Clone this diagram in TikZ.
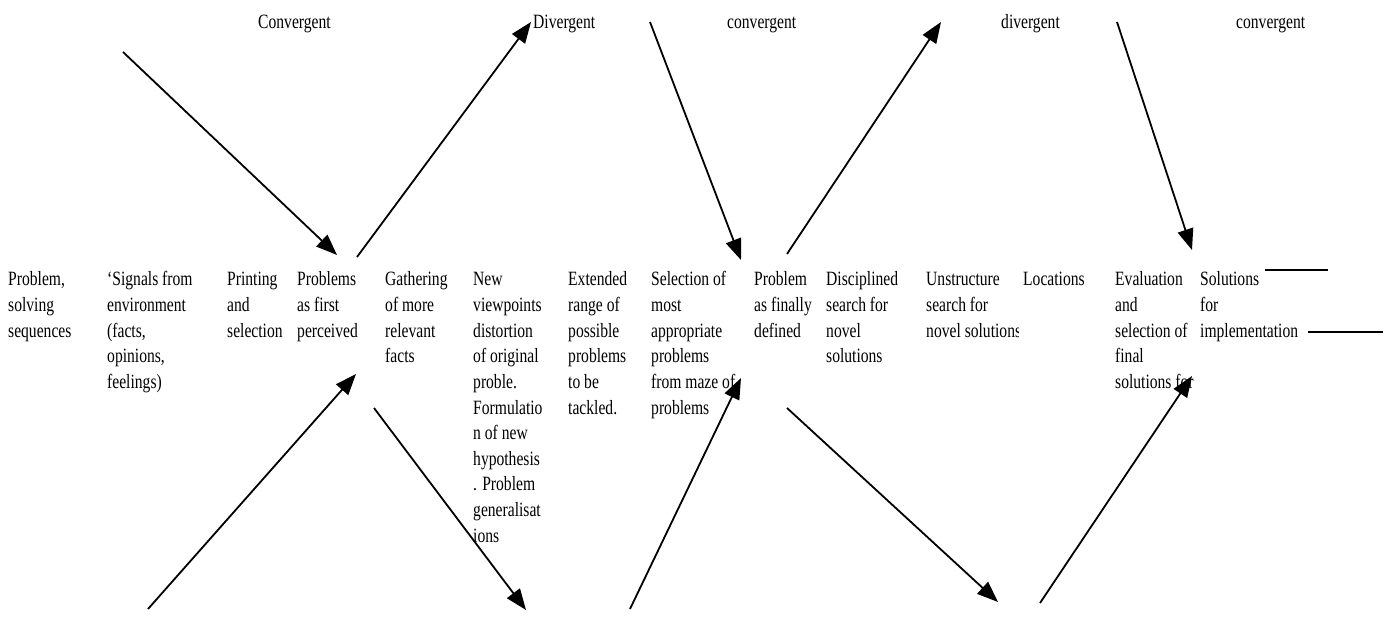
\documentclass[tikz,border=0pt]{standalone}
\usepackage{fontspec}
\usepackage{graphicx}
\setmainfont{Liberation Serif}
\usetikzlibrary{arrows.meta}

\tikzset{
  flow/.style={line width=1.8pt, -{Triangle[length=21pt,width=16pt]}},
  rule/.style={line width=1.6pt},
  phase/.style={anchor=base west, inner sep=0pt, font=\fontsize{15.6}{19.7}\selectfont},
  cell/.style={anchor=base west, inner sep=0pt, font=\fontsize{15.6}{19.7}\selectfont}
}
% tall, narrow type as set in the table
\newcommand{\tallbox}[1]{\scalebox{1}[1.3]{#1}}
% one column of the table: clip right edge, left x, text lines, name, clip bottom
\newcommand{\colcell}[5]{%
  \begin{scope}
    \clip (#2-4,250) rectangle (#1,#5);
    \node[cell] (#4) at (#2,286) {\tallbox{\parbox[t]{140pt}{\raggedright #3}}};
  \end{scope}}

\begin{document}
\begin{tikzpicture}[x=1pt,y=-1pt]
\useasboundingbox (0,0) rectangle (1393,644);

% phase labels
\node[phase] (l1) at (258,29) {\tallbox{Convergent}};
\node[phase] (l2) at (533,29) {\tallbox{Divergent}};
\node[phase] (l3) at (727,29) {\tallbox{convergent}};
\node[phase] (l4) at (1001,29) {\tallbox{divergent}};
\node[phase] (l5) at (1236,29) {\tallbox{convergent}};

% table row of stages
\colcell{102}{8}{Problem,\\solving\\sequences}{c1}{620}
\colcell{222}{107}{‘Signals from\\environment\\(facts,\\opinions,\\feelings)}{c2}{620}
\colcell{292}{227}{Printing\\and\\selection}{c3}{620}
\colcell{380}{297}{Problems\\as first\\perceived}{c4}{620}
\colcell{468}{385}{Gathering\\of more\\relevant\\facts}{c5}{620}
\colcell{563}{473}{New\\viewpoints\\distortion\\of original\\proble.\\Formulatio\\n of new\\hypothesis\\. Problem\\generalisat\\ions}{c6}{544}
\colcell{645}{568}{Extended\\range of\\possible\\problems\\to be\\tackled.}{c7}{620}
\colcell{748}{651}{Selection of\\most\\appropriate\\problems\\from maze of\\problems}{c8}{620}
\colcell{821}{754}{Problem\\as finally\\defined}{c9}{620}
\colcell{921}{826}{Disciplined\\search for\\novel\\solutions}{c10}{620}
\colcell{1018}{926}{Unstructure\\search for\\novel solutions}{c11}{620}
\colcell{1110}{1023}{Locations}{c12}{620}
\colcell{1195}{1115}{Evaluation\\and\\selection of\\final\\solutions for}{c13}{620}
\colcell{1393}{1200}{Solutions\\for\\implementation}{c14}{620}

% arrow end points
\coordinate (a1s) at (123,52);   \coordinate (a1e) at (337,255);
\coordinate (a2s) at (357,257);  \coordinate (a2e) at (531,22);
\coordinate (a3s) at (650,22);   \coordinate (a3e) at (741,260);
\coordinate (a4s) at (787,254);  \coordinate (a4e) at (941,22);
\coordinate (a5s) at (1117,22);  \coordinate (a5e) at (1192,250);
\coordinate (b1s) at (148,609);  \coordinate (b1e) at (356,374);
\coordinate (b2s) at (374,408);  \coordinate (b2e) at (526,610);
\coordinate (b3s) at (630,609);  \coordinate (b3e) at (741,378);
\coordinate (b4s) at (787,408);  \coordinate (b4e) at (998,602);
\coordinate (b5s) at (1040,603); \coordinate (b5e) at (1192,376);

\draw[flow] (a1s) -- (a1e);
\draw[flow] (a2s) -- (a2e);
\draw[flow] (a3s) -- (a3e);
\draw[flow] (a4s) -- (a4e);
\draw[flow] (a5s) -- (a5e);
\draw[flow] (b1s) -- (b1e);
\draw[flow] (b2s) -- (b2e);
\draw[flow] (b3s) -- (b3e);
\draw[flow] (b4s) -- (b4e);
\draw[flow] (b5s) -- (b5e);

% output rules beside the last stage
\coordinate (r1s) at (1265,270); \coordinate (r1e) at (1328,270);
\coordinate (r2s) at (1308,332); \coordinate (r2e) at (1383,332);
\draw[rule] (r1s) -- (r1e);
\draw[rule] (r2s) -- (r2e);
\end{tikzpicture}
\end{document}
